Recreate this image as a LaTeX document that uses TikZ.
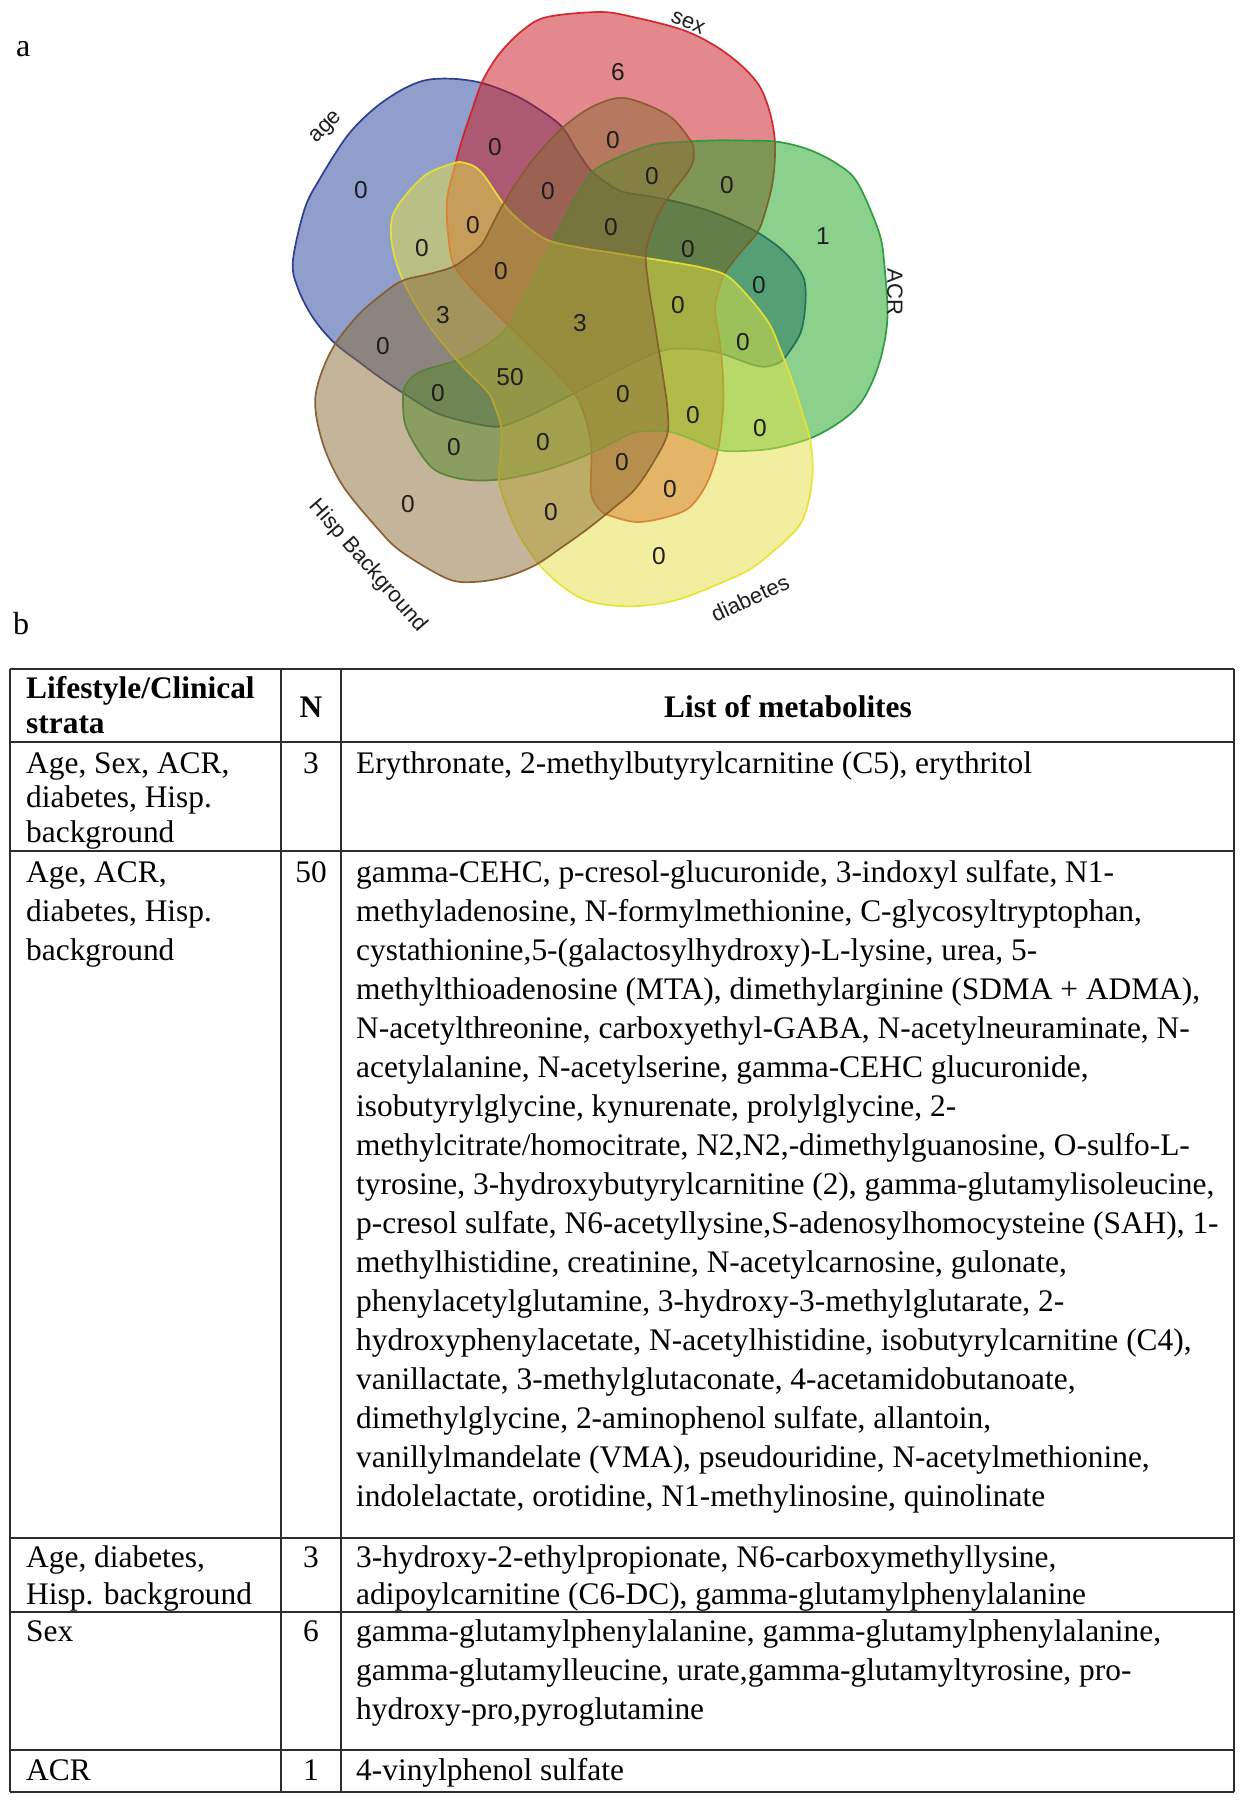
\documentclass[tikz,border=0pt]{standalone}
\usepackage{fontspec}
\setmainfont{Liberation Serif}
\newfontfamily\vennfont{Liberation Sans}
\definecolor{cAge}{RGB}{33,63,153}
\definecolor{dAge}{RGB}{38,58,140}
\definecolor{cSex}{RGB}{201,21,29}
\definecolor{dSex}{RGB}{212,32,40}
\definecolor{cAcr}{RGB}{27,163,31}
\definecolor{dAcr}{RGB}{38,155,58}
\definecolor{cDia}{RGB}{229,225,65}
\definecolor{dDia}{RGB}{232,226,48}
\definecolor{cHis}{RGB}{139,107,53}
\definecolor{dHis}{RGB}{135,92,45}
\definecolor{tcol}{RGB}{45,45,45}
\definecolor{ncol}{RGB}{30,30,30}
\tikzset{
  vset/.style={fill opacity=0.5, draw opacity=0.95, line width=1.7pt},
  vnum/.style={font=\vennfont\fontsize{24.5}{24.5}\selectfont, text=ncol, inner sep=0pt},
  vlab/.style={font=\vennfont\fontsize{22}{22}\selectfont, text=ncol, inner sep=0pt},
  tline/.style={line width=2pt, draw=tcol},
  cell/.style={anchor=base west, inner sep=0pt, align=left, text=black},
  ncell/.style={anchor=base, inner sep=0pt, text=black, font=\fontsize{31.4}{31.4}\selectfont},
  panel/.style={anchor=base west, inner sep=0pt, font=\fontsize{32}{32}\selectfont}
}
\begin{document}
\begin{tikzpicture}[x=1pt,y=-1pt]
\useasboundingbox (0,0) rectangle (1244,1800);
\fill[white] (0,0) rectangle (1244,1800);
\def\blob{plot[smooth cycle, tension=0.55] coordinates {(12,-302) (-41,-297) (-65,-284) (-88,-261) (-105,-234) (-116,-204) (-126,-174) (-135,-141) (-141,-114) (-140,-81) (-135,-51) (-120,-30) (-100,-9) (-80,11) (-56,35) (-32,59) (-9,87) (3,130) (3,178) (12,196) (23,202) (49,208) (79,203) (102,193) (119,169) (130,136) (135,96) (135,63) (132,29) (127,-4) (130,-21) (137,-41) (152,-61) (169,-81) (177,-101) (185,-134) (187,-171) (182,-201) (172,-227) (155,-247) (129,-267) (95,-284) (45,-297)}}
% five sets
\path[vset, fill=cAge, draw=dAge, shift={(588,314)}, rotate=72] \blob;
\path[vset, fill=cSex, draw=dSex, shift={(588,314)}] \blob;
\path[vset, fill=cAcr, draw=dAcr, shift={(588,314)}, rotate=-72] \blob;
\path[vset, fill=cDia, draw=dDia, shift={(588,314)}, rotate=-144] \blob;
\path[vset, fill=cHis, draw=dHis, shift={(588,314)}, rotate=-216] \blob;
% set labels
\node[vlab, rotate=45] (lAge) at (327,128) {age};
\node[vlab, rotate=-23] (lSex) at (688,23) {sex};
\node[vlab, rotate=-90] (lAcr) at (895,292) {ACR};
\node[vlab, rotate=25] (lDia) at (750,598) {diabetes};
\node[vlab, rotate=-49] (lHis) at (368,566) {Hisp Background};
% region counts
\node[vnum] (n01) at (618,72) {6};
\node[vnum] (n02) at (361,190) {0};
\node[vnum] (n03) at (495,147) {0};
\node[vnum] (n04) at (548,191) {0};
\node[vnum] (n05) at (473,225) {0};
\node[vnum] (n06) at (422,248) {0};
\node[vnum] (n07) at (501,271) {0};
\node[vnum] (n08) at (613,140) {0};
\node[vnum] (n09) at (652,176) {0};
\node[vnum] (n10) at (727,185) {0};
\node[vnum] (n11) at (611,227) {0};
\node[vnum] (n12) at (823,236) {1};
\node[vnum] (n13) at (688,249) {0};
\node[vnum] (n14) at (759,285) {0};
\node[vnum] (n15) at (678,305) {0};
\node[vnum] (n16) at (443,315) {3};
\node[vnum] (n17) at (580,323) {3};
\node[vnum] (n18) at (383,346) {0};
\node[vnum] (n19) at (510,377) {50};
\node[vnum] (n20) at (438,393) {0};
\node[vnum] (n21) at (454,447) {0};
\node[vnum] (n22) at (543,442) {0};
\node[vnum] (n23) at (408,504) {0};
\node[vnum] (n24) at (551,512) {0};
\node[vnum] (n25) at (743,342) {0};
\node[vnum] (n26) at (623,394) {0};
\node[vnum] (n27) at (693,415) {0};
\node[vnum] (n28) at (760,428) {0};
\node[vnum] (n29) at (622,462) {0};
\node[vnum] (n30) at (670,489) {0};
\node[vnum] (n31) at (659,556) {0};
% panel letters
\node[panel] (pa) at (16,56) {a};
\node[panel] (pb) at (13,634) {b};
% table rules
\draw[tline] (10,669) -- (1234,669);
\draw[tline] (10,742) -- (1234,742);
\draw[tline] (10,851) -- (1234,851);
\draw[tline] (10,1538) -- (1234,1538);
\draw[tline] (10,1612) -- (1234,1612);
\draw[tline] (10,1750) -- (1234,1750);
\draw[tline] (10,1792) -- (1234,1792);
\draw[tline] (10,669) -- (10,1792);
\draw[tline] (281,669) -- (281,1792);
\draw[tline] (341,669) -- (341,1792);
\draw[tline] (1234,669) -- (1234,1792);
% header (multi-line cells are placed at the baseline of their last line)
\node[cell, font=\bfseries\fontsize{31.4}{35}\selectfont] (h1) at (26,733) {Lifestyle/Clinical\\strata};
\node[ncell, font=\bfseries\fontsize{31.4}{31.4}\selectfont] (h2) at (311,717) {N};
\node[ncell, font=\bfseries\fontsize{31.4}{31.4}\selectfont] (h3) at (788,717) {List of metabolites};
% row 1
\node[cell, font=\fontsize{31.4}{34.5}\selectfont] (r1a) at (26,842) {Age, Sex, ACR,\\diabetes, Hisp.\\background};
\node[ncell] (r1b) at (311,773) {3};
\node[cell, font=\fontsize{31.4}{34.5}\selectfont] (r1c) at (356,773) {Erythronate, 2-methylbutyrylcarnitine (C5), erythritol};
% row 2
\node[cell, font=\fontsize{31.4}{39}\selectfont] (r2a) at (26,960) {Age, ACR,\\diabetes, Hisp.\\background};
\node[ncell] (r2b) at (311,882) {50};
\node[cell, font=\fontsize{31.4}{39}\selectfont] (r2c) at (356,1506) {gamma-CEHC, p-cresol-glucuronide, 3-indoxyl sulfate, N1-\\
methyladenosine, N-formylmethionine, C-glycosyltryptophan,\\
cystathionine,5-(galactosylhydroxy)-L-lysine, urea, 5-\\
methylthioadenosine (MTA), dimethylarginine (SDMA + ADMA),\\
N-acetylthreonine, carboxyethyl-GABA, N-acetylneuraminate, N-\\
acetylalanine, N-acetylserine, gamma-CEHC glucuronide,\\
isobutyrylglycine, kynurenate, prolylglycine, 2-\\
methylcitrate/homocitrate, N2,N2,-dimethylguanosine, O-sulfo-L-\\
tyrosine, 3-hydroxybutyrylcarnitine (2), gamma-glutamylisoleucine,\\
p-cresol sulfate, N6-acetyllysine,S-adenosylhomocysteine (SAH), 1-\\
methylhistidine, creatinine, N-acetylcarnosine, gulonate,\\
phenylacetylglutamine, 3-hydroxy-3-methylglutarate, 2-\\
hydroxyphenylacetate, N-acetylhistidine, isobutyrylcarnitine (C4),\\
vanillactate, 3-methylglutaconate, 4-acetamidobutanoate,\\
dimethylglycine, 2-aminophenol sulfate, allantoin,\\
vanillylmandelate (VMA), pseudouridine, N-acetylmethionine,\\
indolelactate, orotidine, N1-methylinosine, quinolinate};
% row 3
\node[cell, font=\fontsize{31.4}{37}\selectfont] (r3a) at (26,1604) {Age, diabetes,\\Hisp. background};
\node[ncell] (r3b) at (311,1567) {3};
\node[cell, font=\fontsize{31.4}{37}\selectfont] (r3c) at (356,1604) {3-hydroxy-2-ethylpropionate, N6-carboxymethyllysine,\\adipoylcarnitine (C6-DC), gamma-glutamylphenylalanine};
% row 4
\node[cell, font=\fontsize{31.4}{39}\selectfont] (r4a) at (26,1641) {Sex};
\node[ncell] (r4b) at (311,1641) {6};
\node[cell, font=\fontsize{31.4}{39}\selectfont] (r4c) at (356,1719) {gamma-glutamylphenylalanine, gamma-glutamylphenylalanine,\\gamma-glutamylleucine, urate,gamma-glutamyltyrosine, pro-\\hydroxy-pro,pyroglutamine};
% row 5
\node[cell, font=\fontsize{31.4}{39}\selectfont] (r5a) at (26,1780) {ACR};
\node[ncell] (r5b) at (311,1780) {1};
\node[cell, font=\fontsize{31.4}{39}\selectfont] (r5c) at (356,1780) {4-vinylphenol sulfate};
\end{tikzpicture}
\end{document}
